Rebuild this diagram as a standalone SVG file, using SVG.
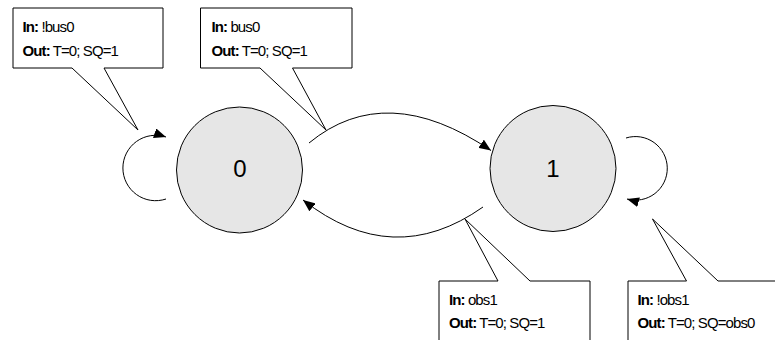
<svg xmlns="http://www.w3.org/2000/svg" width="775" height="340" viewBox="0 0 775 340">
  <style>
    .state { fill: #e6e6e6; stroke: #000; stroke-width: 1; }
    .state-label { font-family: "Liberation Sans", Arial, sans-serif; font-size: 24px; text-anchor: middle; fill: #000; }
    .edge { fill: none; stroke: #000; stroke-width: 1; marker-end: url(#arrow); }
    .callout { fill: #fff; stroke: #000; stroke-width: 1; }
    .note { font-family: "Liberation Sans", Arial, sans-serif; font-size: 15px; letter-spacing: -0.9px; fill: #000; }
    .note .k { font-weight: bold; }
  </style>
  <defs>
    <marker id="arrow" viewBox="0 0 12 10" refX="12" refY="5" markerWidth="12" markerHeight="10" markerUnits="userSpaceOnUse" orient="auto">
      <path d="M0,0 L12,5 L0,10 Z" fill="#000"/>
    </marker>
  </defs>

  <rect width="775" height="340" fill="#fff"/>

  <!-- transitions -->
  <g id="connectors">
    <path class="edge" d="M166,199 A32.7,32.7 0 1 1 166,137"/>
    <path class="edge" d="M309,143 Q386,79.5 491,150.5"/>
    <path class="edge" d="M483,207 Q393,270.5 303,200"/>
    <path class="edge" d="M626,138 A31.8,31.8 0 1 1 627,199"/>
  </g>

  <!-- states -->
  <g id="state-0">
    <circle class="state" cx="239.5" cy="170" r="63"/>
    <text class="state-label" x="240" y="177">0</text>
  </g>
  <g id="state-1">
    <circle class="state" cx="553" cy="168.5" r="63"/>
    <text class="state-label" x="553" y="177">1</text>
  </g>

  <!-- transition notes -->
  <g id="note-0-0">
    <path class="callout" d="M13,8 H163 V68 H104 L138,130 L72,68 H13 Z"/>
    <text class="note" x="22.5" y="32"><tspan class="k">In:</tspan> !bus0</text>
    <text class="note" x="22.5" y="55.5"><tspan class="k">Out:</tspan> T=0; SQ=1</text>
  </g>
  <g id="note-0-1">
    <path class="callout" d="M200.5,8 H352 V68 H292.5 L326,130 L260,68 H200.5 Z"/>
    <text class="note" x="211.5" y="32"><tspan class="k">In:</tspan> bus0</text>
    <text class="note" x="211.5" y="55.5"><tspan class="k">Out:</tspan> T=0; SQ=1</text>
  </g>
  <g id="note-1-0">
    <path class="callout" d="M439,281 H498 L465,219 L530,281 H590 V345 H439 Z"/>
    <text class="note" x="449" y="305"><tspan class="k">In:</tspan> obs1</text>
    <text class="note" x="449" y="328"><tspan class="k">Out:</tspan> T=0; SQ=1</text>
  </g>
  <g id="note-1-1">
    <path class="callout" d="M628,281 H686.5 L652.5,219 L718,281 H790 V345 H628 Z"/>
    <text class="note" x="637.5" y="305"><tspan class="k">In:</tspan> !obs1</text>
    <text class="note" x="637.5" y="328"><tspan class="k">Out:</tspan> T=0; SQ=obs0</text>
  </g>
</svg>
